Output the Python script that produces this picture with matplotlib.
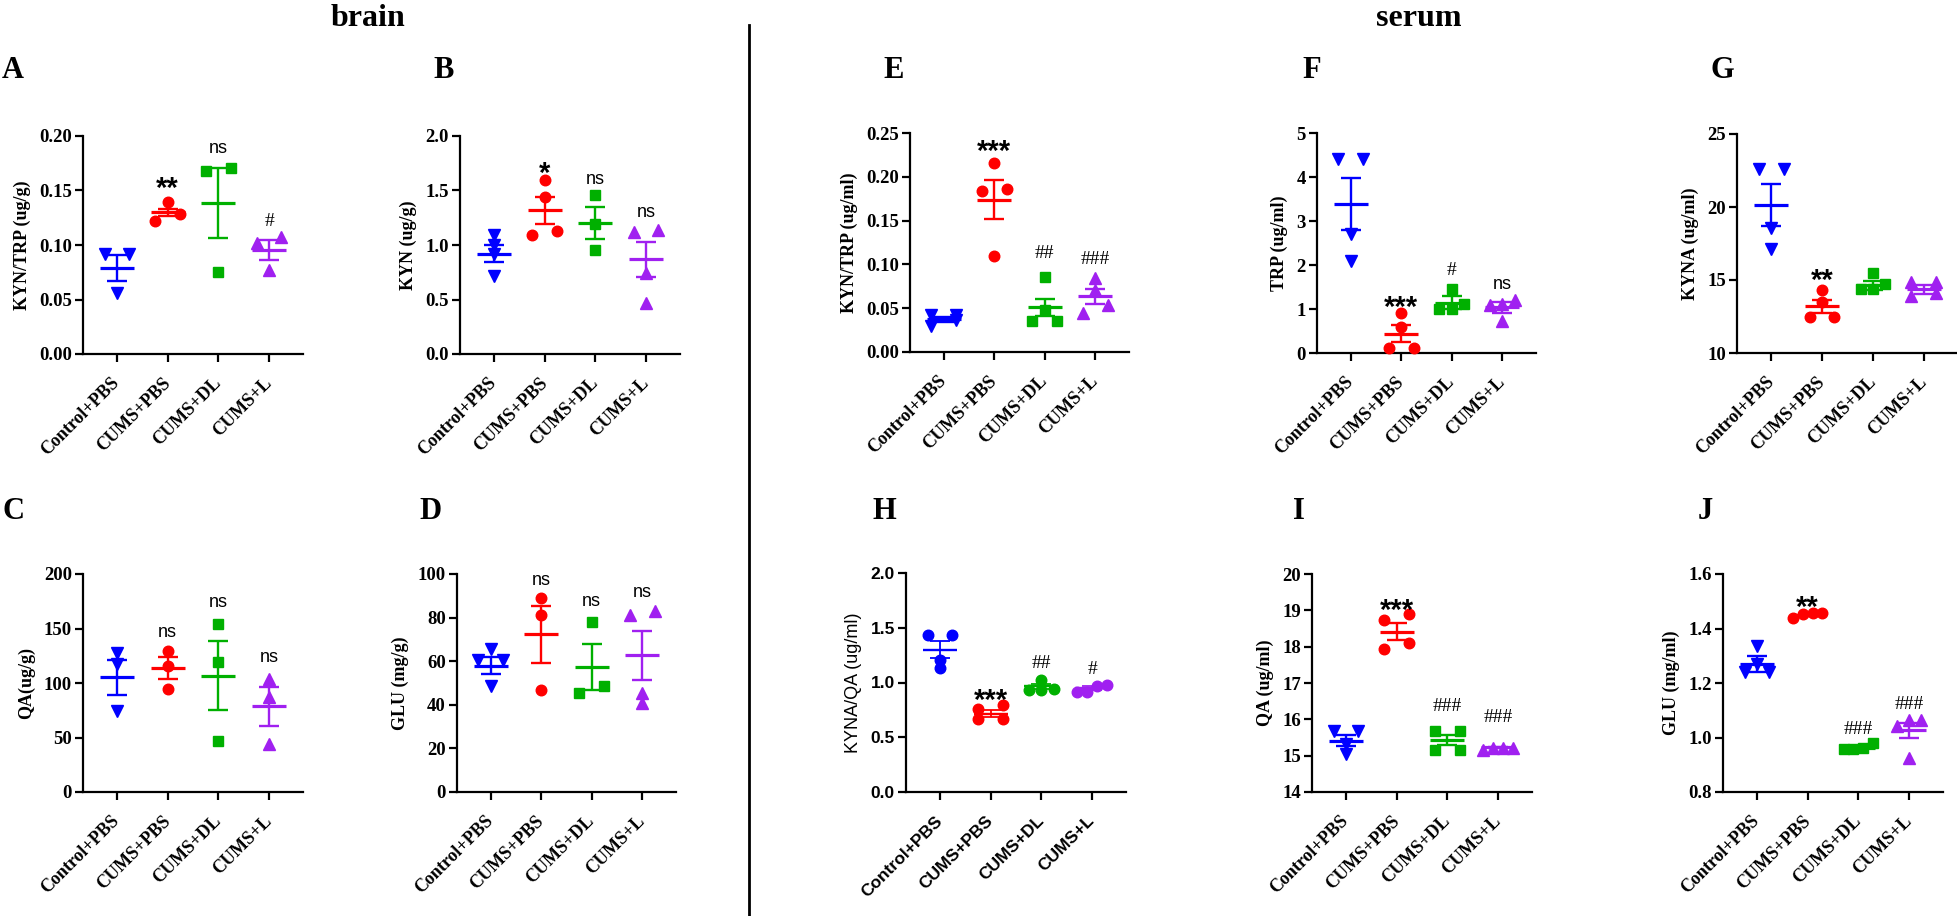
import numpy as np
import matplotlib
matplotlib.use('Agg')
import matplotlib.pyplot as plt
from matplotlib.lines import Line2D

groups = ['Control+PBS', 'CUMS+PBS', 'CUMS+DL', 'CUMS+L']

# A - brain KYN/TRP
a_pts = [[0.092, 0.092, 0.056], [0.139, 0.128, 0.122], [0.171, 0.168, 0.075], [0.107, 0.102, 0.077]]
a_mean = [0.079, 0.130, 0.1385, 0.0957]
a_sem = [0.012, 0.003, 0.032, 0.0093]
a_sig = ['', '**', 'ns', '#']
a_sig_y = [None, 0.160, 0.189, 0.124]

# B - brain KYN
b_pts = [[1.09, 1.0, 0.92, 0.72], [1.60, 1.44, 1.09, 1.13], [1.46, 1.19, 0.95], [1.14, 1.12, 0.74, 0.47]]
b_mean = [0.92, 1.318, 1.202, 0.869]
b_sem = [0.078, 0.122, 0.148, 0.16]
b_sig = ['', '*', 'ns', 'ns']
b_sig_y = [None, 1.734, 1.606, 1.30]

# C - brain QA
c_pts = [[127.5, 117.7, 74], [129, 116, 94.5], [154.4, 119, 47.1], [104, 87, 44]]
c_mean = [105.2, 113.5, 106.7, 78.6]
c_sem = [16.3, 10.0, 31.6, 18.0]
c_sig = ['', 'ns', 'ns', 'ns']
c_sig_y = [None, 146.5, 174, 123.5]

# D - brain GLU
d_pts = [[65.6, 60.6, 60.6, 48.4], [89, 81.4, 46.6], [78.2, 48.5, 45.3], [83.1, 81.1, 45.3, 40.8]]
d_mean = [58.0, 72.4, 57.3, 62.7]
d_sem = [3.7, 13.0, 10.6, 11.2]
d_sig = ['', 'ns', 'ns', 'ns']
d_sig_y = [None, 97.3, 87.6, 91.8]

# E - serum KYN/TRP
e_pts = [[0.042, 0.042, 0.036, 0.030], [0.216, 0.186, 0.184, 0.110],
         [0.086, 0.048, 0.0355, 0.0355], [0.085, 0.071, 0.054, 0.045]]
e_mean = [0.0374, 0.174, 0.0508, 0.0634]
e_sem = [0.0029, 0.0223, 0.010, 0.0086]
e_sig = ['', '***', '##', '###']
e_sig_y = [None, 0.239, 0.1145, 0.108]

# F - serum TRP
f_pts = [[4.42, 4.42, 2.71, 2.10], [0.92, 0.59, 0.12, 0.12], [1.45, 1.11, 0.99, 0.99], [1.2, 1.11, 1.1, 0.73]]
f_mean = [3.39, 0.44, 1.143, 1.037]
f_sem = [0.59, 0.20, 0.15, 0.12]
f_sig = ['', '***', '#', 'ns']
f_sig_y = [None, 1.22, 1.93, 1.56]

# G - serum KYNA
g_pts = [[22.58, 22.58, 18.53, 17.09], [14.3, 13.5, 12.47, 12.47], [15.5, 14.7, 14.41, 14.41], [14.85, 14.85, 14.1, 13.9]]
g_mean = [20.13, 13.2, 14.64, 14.37]
g_sem = [1.42, 0.46, 0.30, 0.30]
g_sig = ['', '**', '', '']
g_sig_y = [None, 15.56, None, None]

# H - serum KYNA/QA
h_pts = [[1.43, 1.43, 1.21, 1.13], [0.79, 0.76, 0.67, 0.67], [1.02, 0.94, 0.93, 0.93], [0.98, 0.97, 0.91, 0.91]]
h_mean = [1.30, 0.715, 0.965, 0.95]
h_sem = [0.079, 0.03, 0.02, 0.018]
h_sig = ['', '***', '##', '#']
h_sig_y = [None, 0.913, 1.193, 1.14]

# I - serum QA
i_pts = [[15.69, 15.69, 15.33, 15.05], [18.9, 18.74, 18.09, 17.94], [15.69, 15.69, 15.16, 15.16], [15.21, 15.21, 15.21, 15.15]]
i_mean = [15.41, 18.415, 15.42, 15.23]
i_sem = [0.15, 0.23, 0.14, 0.02]
i_sig = ['', '***', '###', '###']
i_sig_y = [None, 19.22, 16.4, 16.1]

# J - serum GLU
j_pts = [[1.335, 1.27, 1.24, 1.24], [1.458, 1.458, 1.455, 1.44], [0.978, 0.956, 0.956, 0.96], [1.063, 1.063, 1.042, 0.926]]
j_mean = [1.27, 1.451, 0.962, 1.027]
j_sem = [0.028, 0.004, 0.005, 0.028]
j_sig = ['', '**', '###', '###']
j_sig_y = [None, 1.508, 1.036, 1.13]

W, H = 1958, 916
fig = plt.figure(figsize=(W / 100, H / 100), dpi=100)

colors = ['#0000FF', '#FF0000', '#00B000', '#A020F0']
markers = ['v', 'o', 's', '^']
msize = {'v': 8.0, '^': 8.0, 'o': 7.6, 's': 6.8}
SERIF = 'Liberation Serif'
SANS = 'Liberation Sans'


def add_axes(x0, y0, x1, y1):
    return fig.add_axes([x0 / W, 1 - y1 / H, (x1 - x0) / W, (y1 - y0) / H])


def spread(vals, ppu, step=0.244, thresh=8):
    # simple scatter-dot layout: points closer than thresh px share a row
    order = np.argsort(vals)
    rows = []
    for i in order:
        if rows and (vals[i] - vals[rows[-1][0]]) * ppu < thresh:
            rows[-1].append(i)
        else:
            rows.append([i])
    off = np.zeros(len(vals))
    for r in rows:
        n = len(r)
        k = 2 if n == 2 else (0.8 if n == 4 else 1)
        for j, i in enumerate(r):
            off[i] = (j - (n - 1) / 2) * step * k
    return off


def sig_style(s):
    if s == 'ns':
        return SANS, 'normal', 13, 3.4
    if '*' in s:
        return SANS, 'bold', 21, 12.2
    return SERIF, 'normal', 14, 4.8


def panel(ax, pts, means, sems, sig, sig_y, ylim, yticks, fmt, ylabel, sans=False, mk=markers):
    fam = SANS if sans else SERIF
    ax.set_xlim(-0.67, 3.67)
    ax.set_ylim(ylim)
    ppu = 218 / (ylim[1] - ylim[0])
    lw_mean = 1.7 if sans else 2.3
    lw_err = 1.3 if sans else 1.7
    for i, vals in enumerate(pts):
        vals = np.array(vals, dtype=float)
        x = i + spread(vals, ppu)
        ax.plot(x, vals, ls='none', marker=mk[i], ms=msize[mk[i]], color=colors[i],
                mec=colors[i], zorder=3, clip_on=False)
        ax.hlines(means[i], i - 0.335, i + 0.335, color=colors[i], lw=lw_mean, zorder=4)
        ax.errorbar(i, means[i], yerr=sems[i], fmt='none', ecolor=colors[i],
                    elinewidth=lw_err, capsize=7, capthick=lw_err, zorder=4)
        if sig[i]:
            f, w, s, off = sig_style(sig[i])
            ax.annotate(sig[i], (i, sig_y[i]), xytext=(0, -off), textcoords='offset points',
                        ha='center', va='baseline', fontfamily=f, fontweight=w, fontsize=s,
                        annotation_clip=False)
    for side in ['top', 'right']:
        ax.spines[side].set_visible(False)
    for side in ['left', 'bottom']:
        ax.spines[side].set_linewidth(1.6)
    ax.set_xticks(range(4))
    ax.set_xticklabels(groups, rotation=45, ha='right', va='center', rotation_mode='anchor',
                       fontfamily=fam, fontweight='bold', fontsize=12.5 if sans else 13)
    ax.set_yticks(yticks)
    ax.set_yticklabels([fmt.format(v) for v in yticks], fontfamily=fam, fontweight='bold',
                       fontsize=12.5 if sans else 13.5)
    ax.tick_params(axis='both', direction='out', length=6, width=1.6)
    ax.tick_params(axis='x', pad=13)
    ax.tick_params(axis='y', pad=2)
    ax.set_ylabel(ylabel, fontfamily=fam, fontweight='normal' if sans else 'bold',
                  fontsize=13, labelpad=6)


panel(add_axes(83, 136, 303, 354), a_pts, a_mean, a_sem, a_sig, a_sig_y,
      (0, 0.20), [0, 0.05, 0.10, 0.15, 0.20], '{:.2f}', 'KYN/TRP (ug/g)')
panel(add_axes(460, 136, 680, 354), b_pts, b_mean, b_sem, b_sig, b_sig_y,
      (0, 2.0), [0, 0.5, 1.0, 1.5, 2.0], '{:.1f}', 'KYN (ug/g)')
panel(add_axes(83, 574, 303, 792), c_pts, c_mean, c_sem, c_sig, c_sig_y,
      (0, 200), [0, 50, 100, 150, 200], '{:.0f}', 'QA(ug/g)')
panel(add_axes(457, 574, 676, 792), d_pts, d_mean, d_sem, d_sig, d_sig_y,
      (0, 100), [0, 20, 40, 60, 80, 100], '{:.0f}', 'GLU (mg/g)')
panel(add_axes(910, 133, 1129, 352), e_pts, e_mean, e_sem, e_sig, e_sig_y,
      (0, 0.25), [0, 0.05, 0.10, 0.15, 0.20, 0.25], '{:.2f}', 'KYN/TRP (ug/ml)')
panel(add_axes(1317, 133, 1536, 353), f_pts, f_mean, f_sem, f_sig, f_sig_y,
      (0, 5), [0, 1, 2, 3, 4, 5], '{:.0f}', 'TRP (ug/ml)')
panel(add_axes(1737, 134, 1958, 353), g_pts, g_mean, g_sem, g_sig, g_sig_y,
      (10, 25), [10, 15, 20, 25], '{:.0f}', 'KYNA (ug/ml)')
panel(add_axes(906, 573, 1126, 792), h_pts, h_mean, h_sem, h_sig, h_sig_y,
      (0, 2.0), [0, 0.5, 1.0, 1.5, 2.0], '{:.1f}', 'KYNA/QA (ug/ml)', sans=True, mk=['o'] * 4)
panel(add_axes(1312, 574, 1532, 792), i_pts, i_mean, i_sem, i_sig, i_sig_y,
      (14, 20), [14, 15, 16, 17, 18, 19, 20], '{:.0f}', 'QA (ug/ml)')
panel(add_axes(1723, 574, 1943, 792), j_pts, j_mean, j_sem, j_sig, j_sig_y,
      (0.8, 1.6), [0.8, 1.0, 1.2, 1.4, 1.6], '{:.1f}', 'GLU (mg/ml)')

# panel letters
letters = [('A', 2, 78), ('B', 433, 78), ('E', 883, 78), ('F', 1302, 78), ('G', 1710, 78),
           ('C', 2, 519), ('D', 419, 519), ('H', 873, 519), ('I', 1293, 519), ('J', 1698, 519)]
for t, x, y in letters:
    fig.text(x / W, 1 - y / H, t, ha='left', va='baseline', fontfamily=SERIF,
             fontweight='bold', fontsize=22)

fig.text(368 / W, 1 - 26 / H, 'brain', ha='center', va='baseline', fontfamily=SERIF,
         fontweight='bold', fontsize=23)
fig.text(1419 / W, 1 - 26 / H, 'serum', ha='center', va='baseline', fontfamily=SERIF,
         fontweight='bold', fontsize=23)

# divider between brain and serum
fig.add_artist(Line2D([749 / W, 749 / W], [1 - 25 / H, 0], color='black', lw=2))

fig.savefig('out.png', dpi=100)
